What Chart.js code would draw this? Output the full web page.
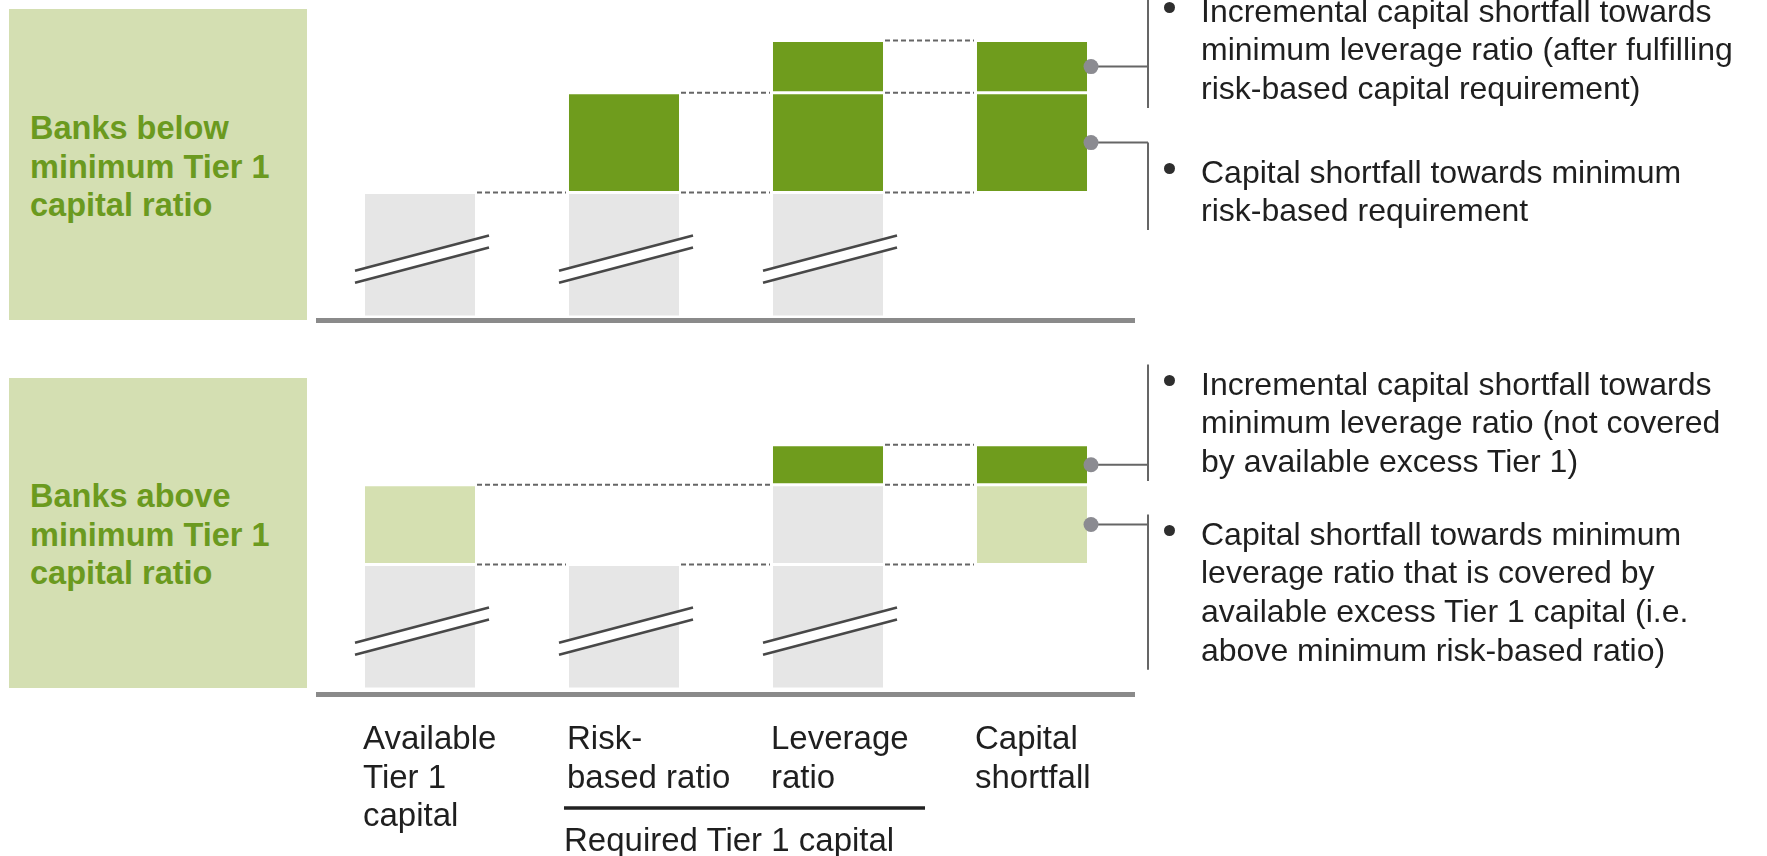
<!DOCTYPE html>
<html>
<head>
<meta charset="utf-8">
<script src="https://cdn.jsdelivr.net/npm/chart.js@4.4.1/dist/chart.umd.min.js"></script>
<style>
  html, body { margin: 0; padding: 0; background: #fff; }
  body { width: 1767px; height: 856px; position: relative; overflow: hidden;
         font-family: "Liberation Sans", Arial, sans-serif; color: #1f1f1f; }
  .panel { position: absolute; left: 0; width: 1767px; }
  .panel canvas { position: absolute; left: 0; top: 0; }
  .tag { position: absolute; left: 9px; width: 298px; background: #d4dfb2; }
  .tag div { position: absolute; left: 21px; font-weight: bold; font-size: 32.5px;
             line-height: 38.5px; color: #6b9a1f; white-space: nowrap; }
  .note { position: absolute; left: 1201px; font-size: 32px; line-height: 38.8px; white-space: nowrap; }
  .note::before { content: ''; position: absolute; left: -37px; top: 10px; width: 11px; height: 11px;
                  border-radius: 50%; background: #2e2e2e; }
  .req { position: absolute; left: 564px; top: 821px; font-size: 33px; line-height: 38.5px; white-space: nowrap; }
</style>
</head>
<body>

<div class="panel" id="topPanel" style="top:0;height:340px">
  <div class="tag" style="top:9px;height:311px">
    <div style="top:100px">Banks below<br>minimum Tier 1<br>capital ratio</div>
  </div>
  <canvas id="below" width="1767" height="340"></canvas>
</div>

<div class="panel" id="bottomPanel" style="top:340px;height:516px">
  <div class="tag" style="top:38px;height:310px">
    <div style="top:99px">Banks above<br>minimum Tier 1<br>capital ratio</div>
  </div>
  <canvas id="above" width="1767" height="516"></canvas>
</div>

<div class="req">Required Tier 1 capital</div>

<script>
const categories = [['Available', 'Tier 1', 'capital'], ['Risk-', 'based ratio'], ['Leverage', 'ratio'], ['Capital', 'shortfall']];

// banks below the minimum Tier 1 ratio
const belowBase = [[0, 5], [0, 5], [0, 5], null];
const belowRiskGap = [null, [5, 9], [5, 9], [5, 9]];
const belowLevGap = [null, null, [9, 11.1], [9, 11.1]];
// [from category, to category, level] for the dashed guides
const belowLinks = [[0, 1, 5], [1, 2, 5], [1, 2, 9], [2, 3, 5], [2, 3, 9], [2, 3, 11.1]];

// banks above the minimum Tier 1 ratio
const aboveBase = [[0, 5], [0, 5], [0, 5], null];
const aboveExcess = [[5, 8.2], null, null, [5, 8.2]];
const aboveLevCovered = [null, null, [5, 8.2], null];
const aboveLevGap = [null, null, [8.2, 9.8], [8.2, 9.8]];
const aboveLinks = [[0, 1, 5], [0, 2, 8.2], [1, 2, 5], [2, 3, 5], [2, 3, 8.2], [2, 3, 9.8]];

// axis break drawn across the grey base bars
const breakValue = 2.3;

const belowNotes = [
  { top: -8.5, ds: 2, lines: ['Incremental capital shortfall towards', 'minimum leverage ratio (after fulfilling', 'risk-based capital requirement)'] },
  { top: 152.5, ds: 1, lines: ['Capital shortfall towards minimum', 'risk-based requirement'] }
];
const aboveNotes = [
  { top: 24.5, ds: 3, lines: ['Incremental capital shortfall towards', 'minimum leverage ratio (not covered', 'by available excess Tier 1)'] },
  { top: 174.5, ds: 1, lines: ['Capital shortfall towards minimum', 'leverage ratio that is covered by', 'available excess Tier 1 capital (i.e.', 'above minimum risk-based ratio)'] }
];

const GREEN = '#6f9c1d', LIGHT = '#d5e0b1', GREY = '#e6e6e6';
const NOTE_LH = 38.8;

function addNotes(panelId, notes) {
  const panel = document.getElementById(panelId);
  notes.forEach(n => {
    const d = document.createElement('div');
    d.className = 'note';
    d.style.top = n.top + 'px';
    d.innerHTML = n.lines.join('<br>');
    panel.appendChild(d);
  });
}
addNotes('topPanel', belowNotes);
addNotes('bottomPanel', aboveNotes);

const seg = (data, color) => ({
  data, backgroundColor: color, borderColor: '#ffffff', borderWidth: 1.5, borderSkipped: false,
  grouped: false, barPercentage: 0.554, categoryPercentage: 1
});

const extras = {
  id: 'extras',
  afterDatasetsDraw(chart, args, opts) {
    const ctx = chart.ctx, x = chart.scales.x, y = chart.scales.y;
    const half = chart.getDatasetMeta(0).data[0].width / 2 - 1.5;
    const cx = i => x.getPixelForValue(i);
    ctx.save();

    // dashed level guides between bars
    ctx.setLineDash([5, 3]);
    ctx.lineWidth = 2;
    ctx.strokeStyle = '#666666';
    opts.links.forEach(([a, b, v]) => {
      const yy = y.getPixelForValue(v);
      ctx.beginPath();
      ctx.moveTo(cx(a) + half + 2, yy);
      ctx.lineTo(cx(b) - half - 3, yy);
      ctx.stroke();
    });
    ctx.setLineDash([]);

    // break marks on the base bars
    const k = -35 / 133;
    chart.data.datasets[0].data.forEach((v, i) => {
      if (!v) return;
      const c = cx(i), cy = y.getPixelForValue(breakValue);
      const x1 = c - half - 10, x2 = c + half + 14;
      const at = xx => cy + k * (xx - c);
      ctx.fillStyle = '#ffffff';
      ctx.beginPath();
      ctx.moveTo(x1, at(x1) - 6); ctx.lineTo(x2, at(x2) - 6);
      ctx.lineTo(x2, at(x2) + 6); ctx.lineTo(x1, at(x1) + 6);
      ctx.closePath(); ctx.fill();
      ctx.strokeStyle = '#484848';
      ctx.lineWidth = 2.6;
      [-6, 6].forEach(o => {
        ctx.beginPath();
        ctx.moveTo(x1, at(x1) + o);
        ctx.lineTo(x2, at(x2) + o);
        ctx.stroke();
      });
    });

    // brackets linking the shortfall segments to their notes
    opts.notes.forEach(n => {
      const el = chart.getDatasetMeta(n.ds).data[3];
      const dy = (el.y + el.base) / 2;
      const dx = el.x + el.width / 2 + 2.5;
      const bx = dx + 57;
      const t = Math.min(n.top, dy), b = Math.max(n.top + n.lines.length * NOTE_LH, dy);
      ctx.strokeStyle = '#666666';
      ctx.lineWidth = 2;
      ctx.beginPath();
      ctx.moveTo(dx, dy); ctx.lineTo(bx, dy);
      ctx.moveTo(bx, t); ctx.lineTo(bx, b);
      ctx.stroke();
      ctx.fillStyle = '#8b8b91';
      ctx.beginPath();
      ctx.arc(dx, dy, 7.5, 0, Math.PI * 2);
      ctx.fill();
    });

    // underline grouping the two requirement columns
    if (opts.group) {
      const yy = chart.chartArea.bottom + 114;
      ctx.strokeStyle = '#222';
      ctx.lineWidth = 3.5;
      ctx.beginPath();
      ctx.moveTo(cx(1) - half - 5, yy);
      ctx.lineTo(cx(2) + half + 42, yy);
      ctx.stroke();
    }
    ctx.restore();
  }
};

function makePanel(id, datasets, cfg) {
  return new Chart(document.getElementById(id), {
    type: 'bar',
    data: { labels: categories, datasets },
    options: {
      responsive: false,
      animation: false,
      events: [],
      layout: { autoPadding: false, padding: { left: 318, right: 633, top: cfg.top, bottom: cfg.bottom } },
      plugins: {
        legend: { display: false },
        tooltip: { enabled: false },
        extras: { links: cfg.links, notes: cfg.notes, group: cfg.group }
      },
      scales: {
        x: {
          offset: true,
          grid: { display: false, drawTicks: false },
          border: { display: true, color: '#8a8a8a', width: 5 },
          ticks: {
            display: cfg.ticks, autoSkip: false, maxRotation: 0, minRotation: 0,
            align: 'start', labelOffset: -57, padding: 27, color: '#1f1f1f',
            font: { family: '"Liberation Sans", Arial, sans-serif', size: 33, lineHeight: 1.167 }
          },
          afterFit: s => { s.height = cfg.axisH; }
        },
        y: { display: false, min: cfg.min, max: cfg.max }
      }
    },
    plugins: [extras]
  });
}

makePanel('below', [
  seg(belowBase, GREY), seg(belowRiskGap, GREEN), seg(belowLevGap, GREEN)
], { top: 18, bottom: 20, axisH: 0, min: -0.12, max: 12, ticks: false, links: belowLinks, notes: belowNotes, group: false });

makePanel('above', [
  seg(aboveBase, GREY), seg(aboveExcess, LIGHT), seg(aboveLevCovered, GREY), seg(aboveLevGap, GREEN)
], { top: 25, bottom: 0, axisH: 162, min: -0.2, max: 13, ticks: true, links: aboveLinks, notes: aboveNotes, group: true });
</script>
</body>
</html>
